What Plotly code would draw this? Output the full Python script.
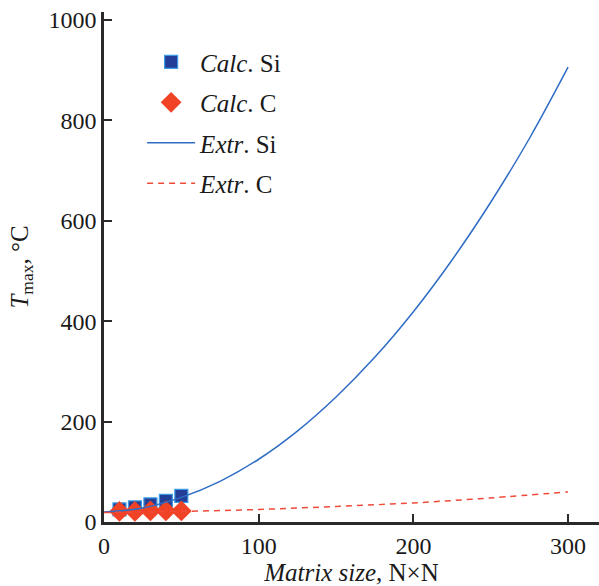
import plotly.graph_objects as go

# Calculated points
calc_x = [10, 20, 30, 40, 50]
calc_si = [25, 29, 35, 42, 52]
calc_c = [21, 21, 22, 22, 22]

# Extrapolation curves
extr_x = [0, 25, 50, 75, 100, 125, 150, 175, 200, 225, 250, 275, 300]
extr_si = [20, 28, 49, 81, 125, 181, 249, 328, 419, 522, 637, 764, 906]
extr_c_x = [0, 50, 100, 150, 200, 250, 300]
extr_c = [19, 21, 25, 31, 38, 48, 60]

x_ticks = [0, 100, 200, 300]
y_ticks = [0, 200, 400, 600, 800, 1000]

FONT = "Liberation Serif"

fig = go.Figure()
fig.add_trace(go.Scatter(
    x=calc_x, y=calc_si, mode="markers", name="<i>Calc</i>. Si",
    legendgroup="a",
    marker=dict(symbol="square", size=13, color="#233e96",
                line=dict(color="#3d9be6", width=1.2))))
fig.add_trace(go.Scatter(
    x=calc_x, y=calc_c, mode="markers", name="<i>Calc</i>. C",
    legendgroup="b",
    marker=dict(symbol="diamond", size=16, color="#f04325",
                line=dict(width=0))))
fig.add_trace(go.Scatter(
    x=extr_x, y=extr_si, mode="lines", name="<i>Extr</i>. Si",
    legendgroup="c", line=dict(color="#2f6cc4", width=1.5, shape="spline")))
fig.add_trace(go.Scatter(
    x=extr_c_x, y=extr_c, mode="lines", name="<i>Extr</i>. C",
    legendgroup="d",
    line=dict(color="#f04a3a", width=1.5, dash="6px,5px", shape="spline")))

axis_common = dict(
    showline=True, linecolor="#2a2a2a", linewidth=2.5,
    ticks="inside", ticklen=8, tickwidth=1.5, tickcolor="#2a2a2a",
    showgrid=False, zeroline=False,
    tickfont=dict(family=FONT, size=24, color="#1a1a1a"),
)

fig.update_layout(
    width=599, height=586,
    margin=dict(l=104, r=0, t=12, b=64),
    paper_bgcolor="white", plot_bgcolor="white",
    font=dict(family=FONT, color="#1a1a1a"),
    showlegend=True,
    legend=dict(x=0.077, y=0.947, xanchor="left", yanchor="top",
                font=dict(family=FONT, size=25, color="#1a1a1a"),
                bgcolor="rgba(0,0,0,0)", tracegroupgap=5, itemwidth=48),
    xaxis=dict(axis_common, range=[0, 320], tickvals=x_ticks,
               title=dict(text="<i>Matrix size</i>, N×N", standoff=6,
                          font=dict(family=FONT, size=25))),
    yaxis=dict(axis_common, range=[0, 1016], tickvals=y_ticks,
               ticksuffix="\u2009",
               title=dict(text="<i>T</i><sub>max</sub>, °C", standoff=13,
                          font=dict(family=FONT, size=25))),
)

fig.write_html("out.html")
